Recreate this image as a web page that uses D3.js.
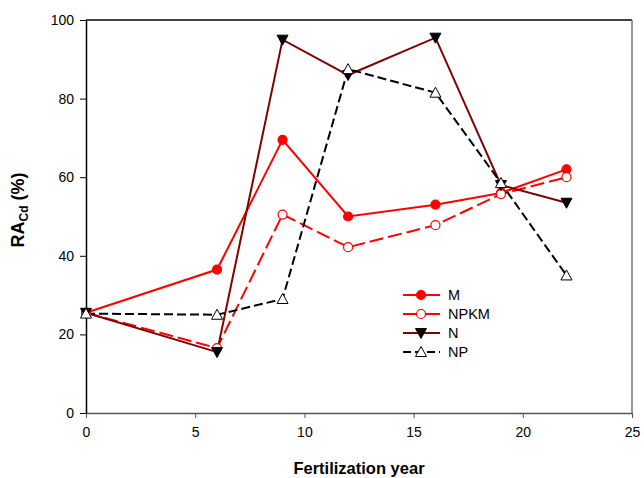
<!DOCTYPE html>
<html>
<head>
<meta charset="utf-8">
<script src="https://cdn.jsdelivr.net/npm/d3@7"></script>
<style>
  body {margin:0; background:#fff;}
  svg text {font-family: "Liberation Sans", Arial, sans-serif;}
</style>
</head>
<body>
<svg width="644" height="478"></svg>
<script>
/*** Data ***/
const years = [0, 6, 9, 12, 16, 19, 22]
const valM    = [25.5, 36.5, 69.5, 50.0, 53.0, 56.0, 62.0]
const valNPKM = [25.5, 16.5, 50.5, 42.2, 47.8, 55.7, 60.0]
const valN    = [25.5, 15.5, 95.0, 86.0, 95.5, 58.0, 53.5]
const valNP   = [25.3, 25.0, 29.0, 87.5, 81.5, 58.5, 35.0]
const xTicks = [0, 5, 10, 15, 20, 25]
const yTicks = [0, 20, 40, 60, 80, 100]

const series = [
	{name: "M",    vals: valM,    color: "#ff0000", dash: null,   mark: "circle", fill: "#ff0000", stroke: "#ff0000"},
	{name: "NPKM", vals: valNPKM, color: "#ff0000", dash: "14,5", mark: "circle", fill: "#ffffff", stroke: "#ff0000"},
	{name: "N",    vals: valN,    color: "#800000", dash: null,   mark: "down",   fill: "#000000", stroke: "#000000"},
	{name: "NP",   vals: valNP,   color: "#000000", dash: "9,4",  mark: "up",     fill: "#ffffff", stroke: "#000000"}
]

/*** Layout ***/
const L = 86, R = 632, T = 20, B = 413
const svg = d3.select("svg")
const x = d3.scaleLinear().domain([0, 25]).range([L, R])
const y = d3.scaleLinear().domain([0, 100]).range([B, T])

// frame
svg.append("line").attr("x1", L).attr("x2", R).attr("y1", T).attr("y2", T).attr("stroke", "#000").attr("stroke-width", 1.5)
svg.append("line").attr("x1", R).attr("x2", R).attr("y1", T).attr("y2", B).attr("stroke", "#777").attr("stroke-width", 1.5)

const xAxis = svg.append("g").attr("transform", "translate(0," + B + ")")
	.call(d3.axisBottom(x).tickValues(xTicks).tickSize(5).tickSizeOuter(0).tickPadding(9))
xAxis.select(".domain").attr("stroke", "#555").attr("stroke-width", 1.5)
xAxis.selectAll("line").attr("stroke", "#555")
xAxis.selectAll("text").attr("font-size", 14).attr("fill", "#000")

const yAxis = svg.append("g").attr("transform", "translate(" + L + ",0)")
	.call(d3.axisLeft(y).tickValues(yTicks).tickSize(6).tickSizeOuter(0).tickPadding(6))
yAxis.select(".domain").attr("stroke", "#000").attr("stroke-width", 1.5)
yAxis.selectAll("text").attr("font-size", 14).attr("fill", "#000")

// axis titles
svg.append("text").attr("x", (L + R) / 2).attr("y", 474).attr("text-anchor", "middle")
	.attr("font-size", 16.5).attr("font-weight", "bold").text("Fertilization year")
const yt = svg.append("text").attr("transform", "translate(24,210) rotate(-90)")
	.attr("text-anchor", "middle").attr("font-size", 18).attr("font-weight", "bold")
yt.append("tspan").text("RA")
yt.append("tspan").attr("font-size", 12).attr("dy", 4).text("Cd")
yt.append("tspan").attr("dy", -4).text(" (%)")

/*** Markers ***/
function marker(g, s, cx, cy) {
	if (s.mark == "circle") {
		g.append("circle").attr("cx", cx).attr("cy", cy).attr("r", 4.5)
			.attr("fill", s.fill).attr("stroke", s.stroke).attr("stroke-width", 1.2)
	} else {
		const h = 5.5
		const p = s.mark == "down"
			? [[cx - h, cy - h + 1], [cx + h, cy - h + 1], [cx, cy + h]]
			: [[cx - h, cy + h - 1], [cx + h, cy + h - 1], [cx, cy - h]]
		g.append("path").attr("d", "M" + p.join("L") + "Z")
			.attr("fill", s.fill).attr("stroke", s.stroke).attr("stroke-width", 1)
	}
}

const line = d3.line().x(d => x(d[0])).y(d => y(d[1]))
series.forEach(s => {
	const pts = years.map((yr, i) => [yr, s.vals[i]])
	svg.append("path").datum(pts).attr("d", line).attr("fill", "none")
		.attr("stroke", s.color).attr("stroke-width", 2)
		.attr("stroke-dasharray", s.dash)
})
series.forEach(s => {
	const g = svg.append("g")
	years.forEach((yr, i) => marker(g, s, x(yr), y(s.vals[i])))
})

/*** Legend ***/
const lg = svg.append("g")
series.forEach((s, i) => {
	const ly = 295 + i * 19
	lg.append("line").attr("x1", 403).attr("x2", 440).attr("y1", ly).attr("y2", ly)
		.attr("stroke", s.color).attr("stroke-width", 2).attr("stroke-dasharray", s.name == "NP" ? "8,4" : null)
	marker(lg, s, 421, ly)
	lg.append("text").attr("x", 448).attr("y", ly + 5).attr("font-size", 14.5).text(s.name)
})
</script>
</body>
</html>
